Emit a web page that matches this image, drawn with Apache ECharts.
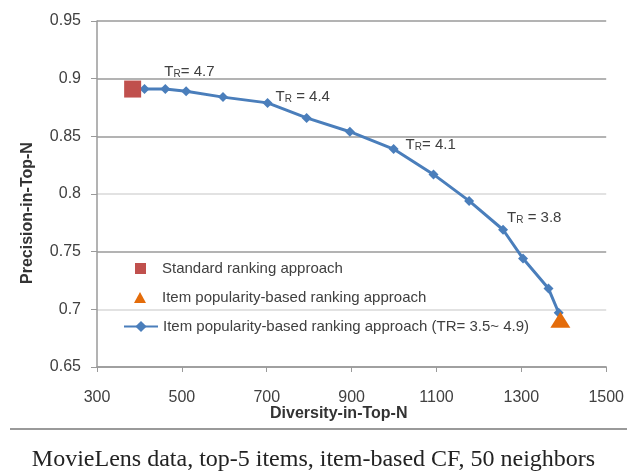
<!DOCTYPE html>
<html><head><meta charset="utf-8">
<script src="https://cdn.jsdelivr.net/npm/echarts@6/dist/echarts.min.js"></script>
<style>html,body{margin:0;padding:0;background:#fff}#c{width:627px;height:476px}</style>
</head><body><div id="c"></div>
<script>
// ---- data ----
var standardPoint = [[384, 0.891]];
var popularityPoint = [[1392, 0.691]];
var curveX = [412, 461, 510, 597, 702, 794, 896, 999, 1093, 1177, 1257, 1304, 1364, 1388];
var curveY = [0.891, 0.891, 0.889, 0.884, 0.879, 0.866, 0.854, 0.839, 0.817, 0.794, 0.769, 0.744, 0.718, 0.697];
var curveLabels = [{i: 1, r: '= 4.7'}, {i: 4, r: ' = 4.4'}, {i: 7, r: '= 4.1'}, {i: 10, r: ' = 3.8'}];
var legendNames = ['Standard ranking approach', 'Item popularity-based ranking approach', 'Item popularity-based ranking approach (TR= 3.5~ 4.9)'];
var xTicks = {min: 300, max: 1500, interval: 200};
var yTicks = {min: 0.65, max: 0.95, interval: 0.05};
var xTitle = 'Diversity-in-Top-N', yTitle = 'Precision-in-Top-N';
var caption = 'MovieLens data, top-5 items, item-based CF, 50 neighbors';

// ---- layout / styles ----
var labelOffsets = {1: [-1, -17], 4: [8, -6], 7: [12, -4], 10: [4, -12]};
var font = 'Liberation Sans';
var blue = '#4a7ebb', red = '#c0504d', orange = '#e46c0a';

var curve = curveX.map(function (x, k) {
  var item = {value: [x, curveY[k]]};
  curveLabels.forEach(function (l) {
    if (l.i === k) {
      item.label = {
        show: true, position: 'inside', align: 'left', verticalAlign: 'middle',
        offset: labelOffsets[k],
        formatter: '{t|T}{r|R}{t|' + l.r + '}',
        rich: {
          t: {fontFamily: font, fontSize: 15, color: '#404040'},
          r: {fontFamily: font, fontSize: 10, color: '#404040', verticalAlign: 'bottom', padding: [4, 0, 0, 0]}
        }
      };
    }
  });
  return item;
});

function legendAt(left, top, name, icon, w, h, textPad) {
  var d = {name: name};
  if (icon) d.icon = icon;
  return {
    left: left, top: top, orient: 'vertical', itemWidth: w, itemHeight: h, padding: 0,
    selectedMode: false, data: [d],
    textStyle: {fontFamily: font, fontSize: 15, color: '#404040', padding: [0, 0, 0, textPad]}
  };
}

var chart = echarts.init(document.getElementById('c'), null, {renderer: 'canvas'});
chart.setOption({
  backgroundColor: '#fff',
  animation: false,
  grid: {left: 97, right: 17, top: 21, bottom: 109},
  legend: [
    legendAt(135, 261, legendNames[0], 'rect', 11, 11, 11),
    legendAt(134, 290, legendNames[1], 'triangle', 12, 11, 11),
    legendAt(123, 319, legendNames[2], null, 34, 14, 0)
  ],
  xAxis: {
    type: 'value', min: xTicks.min, max: xTicks.max, interval: xTicks.interval,
    axisLine: {show: true, lineStyle: {color: '#9a9a9a', width: 1.5}},
    axisTick: {show: true, length: 5, lineStyle: {color: '#9a9a9a'}},
    splitLine: {show: false},
    axisLabel: {fontFamily: font, fontSize: 16, color: '#404040', margin: 23,
      formatter: function (v) { return String(v); }}
  },
  yAxis: {
    type: 'value', min: yTicks.min, max: yTicks.max, interval: yTicks.interval,
    axisLine: {show: true, lineStyle: {color: '#9a9a9a', width: 1.5}},
    axisTick: {show: true, length: 6, lineStyle: {color: '#9a9a9a'}},
    splitLine: {show: true, lineStyle: {color: ['#9a9a9a', '#d9d9d9', '#9a9a9a', '#d9d9d9', '#9a9a9a', '#9a9a9a', '#9a9a9a'], width: 1.5}},
    axisLabel: {fontFamily: font, fontSize: 16, color: '#404040', margin: 16,
      formatter: function (v) { return String(+v.toFixed(2)); }}
  },
  series: [
    {
      name: legendNames[0], type: 'scatter', data: standardPoint,
      symbol: 'rect', symbolSize: 17, itemStyle: {color: red, opacity: 1}, z: 3
    },
    {
      name: legendNames[1], type: 'scatter', data: popularityPoint,
      symbol: 'triangle', symbolSize: [20, 16], itemStyle: {color: orange, opacity: 1}, z: 4
    },
    {
      name: legendNames[2], type: 'line', data: curve,
      symbol: 'diamond', symbolSize: 10, showAllSymbol: true,
      lineStyle: {color: blue, width: 3}, itemStyle: {color: blue}, z: 2
    }
  ],
  graphic: [
    {type: 'text', left: 270, top: 406, style: {text: xTitle, font: 'bold 16px "Liberation Sans"', fill: '#333'}},
    {type: 'text', x: 28, y: 284, rotation: Math.PI / 2, style: {text: yTitle, font: 'bold 16px "Liberation Sans"', fill: '#333', verticalAlign: 'middle'}},
    {type: 'rect', shape: {x: 10, y: 428, width: 617, height: 2}, style: {fill: '#9a9a9a'}},
    {type: 'text', left: 'center', top: 448, style: {text: caption, font: '24px "Liberation Serif"', fill: '#222'}}
  ]
});
</script></body></html>
